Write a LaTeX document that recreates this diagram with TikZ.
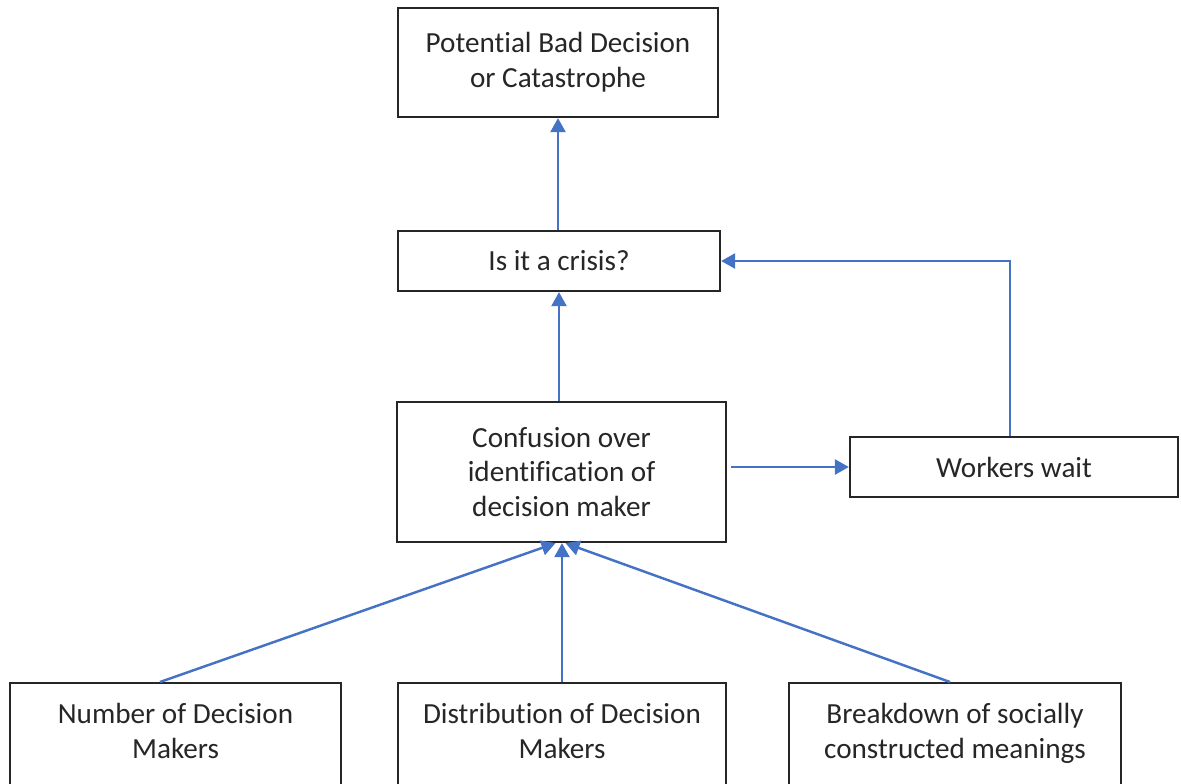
\documentclass[tikz,border=0pt]{standalone}
\usepackage{fontspec}
\setmainfont[Ligatures={NoCommon,NoContextual}, RawFeature={-liga;-clig;-dlig}]{Carlito}
\usepackage{xcolor}
\usepackage{tikz}
\usetikzlibrary{arrows.meta}
\definecolor{flowblue}{HTML}{4472C4}
\definecolor{boxgray}{HTML}{262626}

\begin{document}
\begin{tikzpicture}
\tikzstyle{box}=[draw=boxgray, line width=1.3pt, text=boxgray, align=center, font=\fontsize{16.6}{19.8}\selectfont, inner sep=0pt]
\tikzstyle{cause}=[box, anchor=north, minimum height=2.6cm]
\tikzstyle{flow}=[draw=flowblue, line width=1.4pt, -{Triangle[length=0.28cm, width=0.3cm]}]

\useasboundingbox (0, 0) rectangle (23.62, -15.66);

% Upper chain
\node[box, minimum width=6.4cm, minimum height=2.18cm] (outcome) at (11.16, -1.25) {Potential Bad Decision\\or Catastrophe};
\node[box, minimum width=6.44cm, minimum height=1.2cm] (crisis) at (11.18, -5.22) {Is it a crisis?};
\node[box, minimum width=6.58cm, minimum height=2.8cm] (confusion) at (11.23, -9.44) {Confusion over\\identification of\\decision maker};
\node[box, minimum width=6.56cm, minimum height=1.2cm] (wait) at (20.28, -9.34) {Workers wait};

% Causes (boxes run past the bottom edge)
\node[cause, minimum width=6.62cm] (number) at (3.51, -13.64) {Number of Decision\\Makers\\\mbox{}};
\node[cause, minimum width=6.56cm] (distribution) at (11.24, -13.64) {Distribution of Decision\\Makers\\\mbox{}};
\node[cause, minimum width=6.64cm] (breakdown) at (19.1, -13.64) {Breakdown of socially\\constructed meanings\\\mbox{}};

\path[flow] (crisis.south |- confusion.north) -- (crisis.south);
\path[flow] (outcome.south |- crisis.north) -- (outcome.south);
\path[flow] ([xshift=0.08cm]confusion.east |- wait.west) -- (wait.west);
\path[flow] ([xshift=-0.08cm]wait.north) |- (crisis.east);

\path[flow] ([xshift=-0.31cm]number.north) -- ([xshift=-0.12cm]confusion.south);
\path[flow] (distribution.north) -- (distribution.north |- confusion.south);
\path[flow] ([xshift=-0.1cm]breakdown.north) -- ([xshift=0.08cm]confusion.south);
\end{tikzpicture}
\end{document}
